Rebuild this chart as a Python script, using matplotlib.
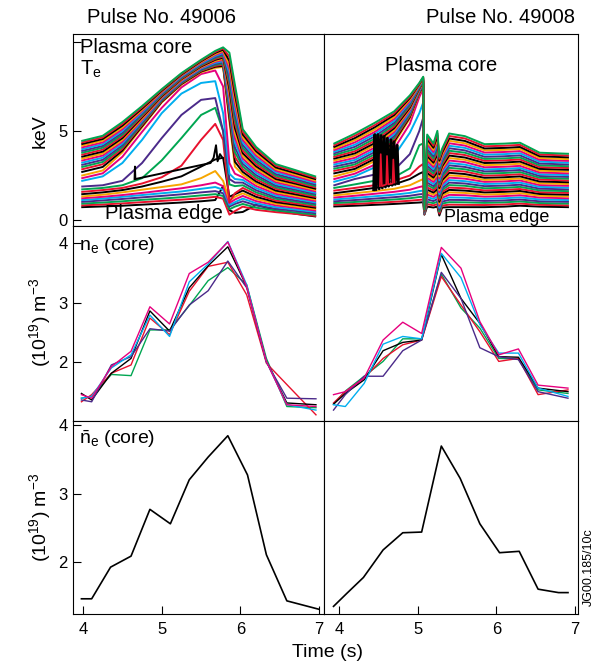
import matplotlib
matplotlib.use("Agg")
import matplotlib.pyplot as plt

plt.rcParams['font.family'] = ['Liberation Sans', 'DejaVu Sans']
plt.rcParams['mathtext.fontset'] = 'custom'
plt.rcParams['mathtext.rm'] = 'Liberation Sans'
plt.rcParams['mathtext.it'] = 'Liberation Sans'
plt.rcParams['mathtext.bf'] = 'Liberation Sans:bold'

# ---------------- Te channels, pulse 49006 (keV), edge (row 0) -> core (row 30)
time_te_49006 = [3.99, 4.25, 4.5, 4.75, 5.0, 5.25, 5.5, 5.68, 5.78, 5.86, 5.93, 6.03, 6.2, 6.45, 6.7, 6.95]
te_49006 = [
    [0.72, 0.76, 0.80, 0.86, 0.92, 0.98, 1.05, 1.12, 1.90, 0.55, 0.40, 0.45, 0.85, 0.55, 0.35, 0.20],
    [0.82, 0.87, 0.93, 1.00, 1.07, 1.14, 1.22, 1.30, 1.20, 0.30, 0.50, 0.75, 0.57, 0.44, 0.34, 0.23],
    [0.92, 0.98, 1.05, 1.13, 1.20, 1.28, 1.38, 1.45, 1.35, 0.60, 0.75, 0.90, 0.69, 0.54, 0.42, 0.30],
    [1.02, 1.10, 1.18, 1.27, 1.35, 1.44, 1.55, 1.62, 1.50, 0.75, 0.90, 1.05, 0.82, 0.63, 0.51, 0.38],
    [1.12, 1.20, 1.30, 1.40, 1.50, 1.60, 1.75, 1.85, 1.70, 0.85, 1.00, 1.20, 0.94, 0.72, 0.59, 0.46],
    [1.22, 1.30, 1.40, 1.52, 1.65, 1.78, 1.95, 2.10, 1.90, 0.95, 1.15, 1.35, 1.06, 0.82, 0.68, 0.53],
    [1.32, 1.42, 1.55, 1.70, 1.85, 2.00, 2.35, 2.75, 2.20, 1.10, 1.30, 1.50, 1.18, 0.91, 0.76, 0.61],
    [1.45, 1.55, 1.68, 1.88, 2.15, 2.45, 3.00, 3.40, 3.50, 1.30, 1.45, 1.65, 1.30, 1.00, 0.85, 0.69],
    [1.58, 1.68, 1.80, 2.05, 2.40, 3.05, 4.50, 5.40, 4.50, 1.00, 1.50, 1.80, 1.43, 1.09, 0.93, 0.76],
    [1.72, 1.80, 1.95, 2.35, 3.35, 4.60, 5.90, 6.30, 5.00, 2.00, 1.90, 1.95, 1.55, 1.19, 1.02, 0.84],
    [1.88, 1.95, 2.20, 3.20, 4.60, 5.90, 6.75, 6.85, 5.00, 2.30, 2.10, 2.10, 1.67, 1.28, 1.10, 0.92],
    [2.20, 2.45, 3.20, 4.50, 6.00, 7.10, 7.70, 7.80, 6.00, 2.60, 2.30, 2.25, 1.79, 1.37, 1.19, 0.99],
    [2.35, 2.62, 3.55, 4.95, 6.30, 7.45, 8.20, 8.40, 7.50, 3.20, 2.60, 2.40, 1.91, 1.47, 1.27, 1.07],
    [2.50, 2.78, 3.80, 5.20, 6.60, 7.60, 8.30, 8.55, 8.60, 5.50, 3.00, 2.55, 2.04, 1.56, 1.36, 1.15],
    [2.70, 2.98, 3.90, 5.27, 6.64, 7.64, 8.34, 8.61, 8.66, 5.73, 3.27, 2.70, 2.16, 1.65, 1.44, 1.23],
    [2.85, 3.13, 4.00, 5.34, 6.69, 7.68, 8.38, 8.66, 8.73, 5.96, 3.54, 2.85, 2.28, 1.75, 1.53, 1.30],
    [2.98, 3.26, 4.10, 5.41, 6.73, 7.71, 8.42, 8.72, 8.79, 6.19, 3.81, 3.00, 2.40, 1.84, 1.61, 1.38],
    [3.10, 3.38, 4.20, 5.48, 6.78, 7.75, 8.46, 8.77, 8.86, 6.42, 4.08, 3.15, 2.52, 1.93, 1.70, 1.46],
    [3.22, 3.50, 4.30, 5.55, 6.82, 7.79, 8.51, 8.83, 8.92, 6.65, 4.35, 3.30, 2.65, 2.02, 1.78, 1.53],
    [3.34, 3.62, 4.40, 5.62, 6.86, 7.83, 8.55, 8.89, 8.99, 6.88, 4.62, 3.45, 2.77, 2.12, 1.87, 1.61],
    [3.45, 3.73, 4.50, 5.69, 6.91, 7.87, 8.59, 8.94, 9.05, 7.11, 4.89, 3.60, 2.89, 2.21, 1.95, 1.69],
    [3.56, 3.84, 4.60, 5.77, 6.95, 7.91, 8.63, 9.00, 9.12, 7.34, 5.17, 3.75, 3.01, 2.30, 2.04, 1.76],
    [3.67, 3.95, 4.70, 5.83, 7.00, 7.94, 8.67, 9.05, 9.18, 7.56, 5.43, 3.90, 3.13, 2.40, 2.12, 1.84],
    [3.78, 4.06, 4.80, 5.91, 7.04, 7.98, 8.71, 9.11, 9.25, 7.79, 5.70, 4.05, 3.25, 2.49, 2.21, 1.91],
    [3.88, 4.16, 4.90, 5.98, 7.09, 8.02, 8.75, 9.16, 9.31, 8.02, 5.98, 4.20, 3.37, 2.58, 2.29, 1.99],
    [3.98, 4.26, 5.00, 6.05, 7.13, 8.06, 8.79, 9.22, 9.38, 8.25, 6.25, 4.35, 3.49, 2.68, 2.38, 2.07],
    [4.08, 4.36, 5.10, 6.12, 7.17, 8.10, 8.84, 9.28, 9.44, 8.48, 6.52, 4.50, 3.62, 2.77, 2.46, 2.14],
    [4.18, 4.46, 5.20, 6.19, 7.22, 8.14, 8.88, 9.33, 9.51, 8.71, 6.79, 4.65, 3.74, 2.86, 2.55, 2.22],
    [4.27, 4.55, 5.30, 6.26, 7.26, 8.17, 8.92, 9.39, 9.57, 8.94, 7.06, 4.80, 3.86, 2.95, 2.63, 2.30],
    [4.36, 4.64, 5.40, 6.33, 7.31, 8.21, 8.96, 9.44, 9.64, 9.17, 7.33, 4.95, 3.98, 3.05, 2.72, 2.37],
    [4.45, 4.73, 5.50, 6.40, 7.35, 8.25, 9.00, 9.50, 9.70, 9.40, 7.60, 5.10, 4.10, 3.14, 2.80, 2.45],
]
# spiky black channel just before the crash
spike_t_49006 = [4.655, 4.66, 4.665, 5.62, 5.66, 5.69, 5.71, 5.74, 5.77]
spike_v_49006 = [2.30, 3.00, 2.30, 3.20, 3.50, 4.20, 3.30, 3.70, 3.50]

# ---------------- Te channels, pulse 49008 (keV)
time_te_49008 = [3.94, 4.2, 4.45, 4.7, 4.9, 5.02, 5.07, 5.085, 5.12, 5.2, 5.25, 5.275, 5.31, 5.4,
                 5.6, 5.85, 6.1, 6.3, 6.55, 6.91]
te_49008 = [
    [0.76, 0.80, 0.85, 0.90, 0.95, 0.98, 1.00, 0.30, 0.75, 0.70, 0.75, 0.25, 0.70, 0.72, 0.72, 0.72, 0.75, 0.80, 0.75, 0.72],
    [0.86, 0.90, 0.96, 1.02, 1.08, 1.13, 1.15, 0.31, 0.89, 0.82, 0.89, 0.36, 0.81, 0.86, 0.85, 0.84, 0.87, 0.92, 0.85, 0.82],
    [0.95, 1.01, 1.08, 1.15, 1.22, 1.29, 1.30, 0.32, 1.02, 0.94, 1.03, 0.47, 0.92, 1.00, 0.99, 0.96, 0.99, 1.04, 0.95, 0.92],
    [1.05, 1.12, 1.20, 1.28, 1.36, 1.44, 1.46, 0.33, 1.16, 1.06, 1.18, 0.58, 1.03, 1.13, 1.12, 1.07, 1.10, 1.15, 1.05, 1.02],
    [1.15, 1.24, 1.33, 1.42, 1.52, 1.62, 1.65, 0.34, 1.29, 1.18, 1.32, 0.69, 1.14, 1.27, 1.25, 1.19, 1.22, 1.27, 1.15, 1.12],
    [1.26, 1.36, 1.47, 1.58, 1.70, 1.85, 1.90, 0.35, 1.43, 1.30, 1.46, 0.80, 1.25, 1.41, 1.39, 1.31, 1.34, 1.39, 1.26, 1.22],
    [1.38, 1.50, 1.62, 1.75, 1.95, 2.20, 2.30, 0.36, 1.56, 1.42, 1.60, 0.91, 1.36, 1.55, 1.52, 1.43, 1.46, 1.51, 1.36, 1.32],
    [1.50, 1.65, 1.80, 2.00, 2.30, 2.60, 2.70, 0.37, 1.70, 1.54, 1.74, 1.02, 1.47, 1.69, 1.65, 1.55, 1.58, 1.63, 1.46, 1.42],
    [1.65, 1.80, 1.95, 2.20, 2.50, 3.00, 3.15, 0.38, 1.83, 1.66, 1.89, 1.13, 1.58, 1.82, 1.78, 1.66, 1.69, 1.74, 1.56, 1.52],
    [1.80, 2.00, 2.20, 2.40, 2.90, 4.20, 4.30, 0.39, 1.97, 1.78, 2.03, 1.24, 1.69, 1.96, 1.92, 1.78, 1.81, 1.86, 1.66, 1.62],
    [1.95, 2.30, 2.55, 2.80, 3.70, 5.00, 5.75, 0.40, 2.10, 1.90, 2.17, 1.35, 1.80, 2.10, 2.05, 1.90, 1.93, 1.98, 1.76, 1.72],
    [2.15, 2.45, 2.95, 3.60, 4.90, 6.00, 6.60, 0.41, 2.24, 2.02, 2.31, 1.46, 1.91, 2.24, 2.18, 2.02, 2.05, 2.10, 1.86, 1.82],
    [2.30, 2.60, 3.10, 4.00, 5.40, 6.90, 7.40, 0.42, 2.37, 2.14, 2.45, 1.57, 2.02, 2.38, 2.32, 2.14, 2.17, 2.22, 1.96, 1.92],
    [2.45, 2.75, 3.30, 4.30, 5.70, 7.10, 7.50, 0.43, 2.51, 2.26, 2.60, 1.68, 2.13, 2.51, 2.45, 2.25, 2.28, 2.33, 2.06, 2.02],
    [2.62, 2.87, 3.43, 4.41, 5.78, 7.14, 7.53, 0.44, 2.64, 2.38, 2.74, 1.79, 2.24, 2.65, 2.58, 2.37, 2.40, 2.45, 2.16, 2.12],
    [2.76, 3.00, 3.55, 4.51, 5.85, 7.17, 7.56, 0.45, 2.78, 2.50, 2.88, 1.90, 2.35, 2.79, 2.72, 2.49, 2.52, 2.57, 2.27, 2.22],
    [2.88, 3.12, 3.68, 4.62, 5.93, 7.21, 7.60, 0.46, 2.91, 2.62, 3.02, 2.01, 2.46, 2.93, 2.85, 2.61, 2.64, 2.69, 2.37, 2.32],
    [3.00, 3.24, 3.81, 4.72, 6.01, 7.24, 7.63, 0.47, 3.05, 2.74, 3.16, 2.12, 2.57, 3.07, 2.98, 2.73, 2.76, 2.81, 2.47, 2.42],
    [3.12, 3.37, 3.93, 4.83, 6.08, 7.28, 7.66, 0.48, 3.18, 2.86, 3.31, 2.23, 2.68, 3.20, 3.11, 2.84, 2.87, 2.92, 2.57, 2.52],
    [3.23, 3.49, 4.06, 4.94, 6.16, 7.31, 7.69, 0.49, 3.32, 2.98, 3.45, 2.34, 2.79, 3.34, 3.25, 2.96, 2.99, 3.04, 2.67, 2.62],
    [3.34, 3.62, 4.19, 5.04, 6.24, 7.35, 7.73, 0.50, 3.45, 3.10, 3.59, 2.45, 2.90, 3.48, 3.38, 3.08, 3.11, 3.16, 2.77, 2.72],
    [3.45, 3.74, 4.31, 5.15, 6.31, 7.38, 7.76, 0.51, 3.59, 3.22, 3.73, 2.56, 3.01, 3.62, 3.51, 3.20, 3.23, 3.28, 2.87, 2.82],
    [3.55, 3.86, 4.44, 5.25, 6.39, 7.42, 7.79, 0.52, 3.72, 3.34, 3.87, 2.67, 3.12, 3.76, 3.65, 3.32, 3.35, 3.40, 2.97, 2.92],
    [3.65, 3.98, 4.56, 5.36, 6.46, 7.45, 7.82, 0.53, 3.86, 3.46, 4.02, 2.78, 3.23, 3.89, 3.78, 3.43, 3.46, 3.51, 3.07, 3.02],
    [3.75, 4.11, 4.69, 5.46, 6.54, 7.49, 7.86, 0.54, 3.99, 3.58, 4.16, 2.89, 3.34, 4.03, 3.91, 3.55, 3.58, 3.63, 3.17, 3.12],
    [3.84, 4.23, 4.82, 5.57, 6.62, 7.52, 7.89, 0.55, 4.13, 3.70, 4.30, 3.00, 3.45, 4.17, 4.05, 3.67, 3.70, 3.75, 3.28, 3.22],
    [3.93, 4.36, 4.94, 5.68, 6.69, 7.56, 7.92, 0.56, 4.26, 3.82, 4.44, 3.11, 3.56, 4.31, 4.18, 3.79, 3.82, 3.87, 3.38, 3.32],
    [4.02, 4.48, 5.07, 5.78, 6.77, 7.59, 7.95, 0.57, 4.40, 3.94, 4.58, 3.22, 3.67, 4.45, 4.31, 3.91, 3.94, 3.99, 3.48, 3.42],
    [4.11, 4.60, 5.20, 5.89, 6.85, 7.63, 7.99, 0.58, 4.53, 4.06, 4.73, 3.33, 3.78, 4.58, 4.44, 4.02, 4.05, 4.10, 3.58, 3.52],
    [4.20, 4.73, 5.32, 5.99, 6.92, 7.66, 8.02, 0.59, 4.67, 4.18, 4.87, 3.44, 3.89, 4.72, 4.58, 4.14, 4.17, 4.22, 3.68, 3.62],
    [4.30, 4.85, 5.45, 6.10, 7.00, 7.70, 8.05, 0.60, 4.80, 4.30, 5.01, 3.55, 4.00, 4.86, 4.71, 4.26, 4.29, 4.34, 3.78, 3.72],
]
black_spike_t_49008 = [4.44, 4.455, 4.47, 4.495, 4.51, 4.535, 4.55, 4.575, 4.59, 4.615, 4.63, 4.66,
                       4.675, 4.70, 4.715, 4.74, 4.755]
black_spike_v_49008 = [1.70, 4.80, 1.70, 4.80, 1.75, 4.75, 1.80, 4.70, 1.85, 4.60, 1.90, 4.50,
                       1.95, 4.40, 2.00, 4.20, 2.05]
red_spike_t_49008 = [4.52, 4.53, 4.545, 4.60, 4.61, 4.625, 4.68, 4.69, 4.705]
red_spike_v_49008 = [1.90, 3.70, 1.90, 2.00, 3.60, 2.00, 2.05, 3.40, 2.10]

# ---------------- ne (core) from several channels, 10^19 m^-3
time_ne_49006 = [3.98, 4.11, 4.36, 4.61, 4.85, 5.10, 5.35, 5.59, 5.84, 6.08, 6.33, 6.59, 6.96]
ne_49006_green = [1.39, 1.42, 1.79, 1.77, 2.54, 2.54, 2.95, 3.37, 3.59, 3.30, 2.06, 1.25, 1.23]
ne_49006_red = [1.33, 1.45, 1.81, 1.95, 2.74, 2.46, 3.19, 3.61, 3.68, 3.13, 1.98, 1.62, 1.11]
ne_49006_black = [1.47, 1.36, 1.81, 2.06, 2.86, 2.52, 3.25, 3.62, 3.94, 3.27, 2.01, 1.31, 1.28]
ne_49006_purple = [1.36, 1.33, 1.95, 2.09, 2.56, 2.52, 2.96, 3.20, 3.70, 3.25, 2.00, 1.39, 1.38]
ne_49006_cyan = [1.39, 1.42, 1.90, 2.12, 2.79, 2.43, 3.35, 3.65, 4.03, 3.30, 2.01, 1.28, 1.19]
ne_49006_magenta = [1.45, 1.39, 1.92, 2.18, 2.93, 2.64, 3.49, 3.68, 4.02, 3.27, 2.01, 1.28, 1.25]

time_ne_49008 = [3.93, 4.08, 4.32, 4.56, 4.81, 5.05, 5.30, 5.55, 5.79, 6.03, 6.28, 6.53, 6.91]
ne_49008_green = [1.29, 1.51, 1.76, 2.01, 2.39, 2.39, 3.48, 2.91, 2.57, 2.06, 2.05, 1.53, 1.47]
ne_49008_red = [1.31, 1.50, 1.73, 2.06, 2.29, 2.37, 3.44, 2.96, 2.51, 2.01, 2.06, 1.45, 1.53]
ne_49008_black = [1.29, 1.47, 1.70, 2.19, 2.33, 2.37, 3.81, 3.07, 2.65, 2.09, 2.08, 1.56, 1.50]
ne_49008_purple = [1.19, 1.45, 1.76, 1.76, 2.19, 2.37, 3.51, 3.07, 2.24, 2.09, 2.04, 1.50, 1.39]
ne_49008_cyan = [1.28, 1.25, 1.64, 2.30, 2.43, 2.39, 3.83, 3.42, 2.63, 2.15, 2.15, 1.56, 1.42]
ne_49008_magenta = [1.45, 1.50, 1.73, 2.37, 2.67, 2.48, 3.93, 3.58, 2.68, 2.12, 2.22, 1.61, 1.56]

# ---------------- line averaged ne (core)
time_nbar_49006 = [3.98, 4.11, 4.35, 4.61, 4.85, 5.11, 5.35, 5.59, 5.84, 6.09, 6.33, 6.59, 6.99]
nbar_49006 = [1.47, 1.47, 1.93, 2.09, 2.77, 2.56, 3.20, 3.53, 3.84, 3.27, 2.11, 1.44, 1.32]
time_nbar_49008 = [3.93, 4.10, 4.31, 4.56, 4.81, 5.05, 5.30, 5.54, 5.79, 6.04, 6.29, 6.53, 6.79, 6.91]
nbar_49008 = [1.36, 1.55, 1.78, 2.18, 2.43, 2.44, 3.69, 3.22, 2.56, 2.14, 2.16, 1.61, 1.56, 1.56]

GREEN = '#00a651'
ORANGE = '#f7a600'
RED = '#e8112d'
MAGENTA = '#e6007e'
BLACK = '#000000'
CYAN = '#00aeef'
PURPLE = '#4b2a8a'
# colour order of the channels going from edge to core
channel_colours = [BLACK, RED, GREEN, PURPLE, CYAN, MAGENTA, ORANGE]


def style_axes(ax, xlim, ylim, yticks=None, ylabels=None, bottom=False):
    ax.set_xlim(*xlim)
    ax.set_ylim(*ylim)
    if bottom:
        ax.set_xticks([4, 5, 6, 7])
        ax.set_xticklabels(['4', '5', '6', '7'])
    else:
        ax.set_xticks([])
    if yticks is None:
        ax.set_yticks([])
    else:
        ax.set_yticks(yticks)
        ax.set_yticklabels(ylabels)
    ax.tick_params(direction='in', length=6, width=0.8, labelsize=12, pad=4, colors='black')
    ax.tick_params(axis='x', pad=6)
    for s in ax.spines.values():
        s.set_linewidth(0.8)
        s.set_color('black')


def draw_channels(ax, t, rows):
    for i, row in enumerate(rows):
        ax.plot(t, row, color=channel_colours[i % 7], lw=1.4, solid_joinstyle='round')


def draw_ne(ax, t, series):
    for vals, col in series:
        ax.plot(t, vals, color=col, lw=1.0)


fig = plt.figure(figsize=(6.0, 6.63), dpi=100)

xl_left = (3.873, 7.062)
xl_right = (3.809, 7.037)
yl_te = (-0.34, 10.45)
yl_ne = (1.006, 4.29)
yl_nbar = (1.249, 4.054)

col_x = [(0.1217, 0.4183), (0.54, 0.4233)]
row_y = [(0.6591, 0.2896), (0.365, 0.2941), (0.0739, 0.2911)]

axes = [[fig.add_axes([cx, ry, cw, rh]) for (cx, cw) in col_x] for (ry, rh) in row_y]

# top row: electron temperature
draw_channels(axes[0][0], time_te_49006, te_49006)
axes[0][0].plot(spike_t_49006, spike_v_49006, color=BLACK, lw=1.4)
draw_channels(axes[0][1], time_te_49008, te_49008)
axes[0][1].plot(black_spike_t_49008, black_spike_v_49008, color=BLACK, lw=2.0)
axes[0][1].plot(red_spike_t_49008, red_spike_v_49008, color=RED, lw=1.2)

# middle row: core density channels
draw_ne(axes[1][0], time_ne_49006, [(ne_49006_green, GREEN), (ne_49006_red, RED), (ne_49006_black, BLACK),
                                    (ne_49006_purple, PURPLE), (ne_49006_cyan, CYAN),
                                    (ne_49006_magenta, MAGENTA)])
draw_ne(axes[1][1], time_ne_49008, [(ne_49008_green, GREEN), (ne_49008_red, RED), (ne_49008_black, BLACK),
                                    (ne_49008_purple, PURPLE), (ne_49008_cyan, CYAN),
                                    (ne_49008_magenta, MAGENTA)])

# bottom row: line averaged density
axes[2][0].plot(time_nbar_49006, nbar_49006, color=BLACK, lw=1.2)
axes[2][1].plot(time_nbar_49008, nbar_49008, color=BLACK, lw=1.2)

style_axes(axes[0][0], xl_left, yl_te, [0, 5, 10], ['0', '5', ''])
style_axes(axes[0][1], xl_right, yl_te)
style_axes(axes[1][0], xl_left, yl_ne, [2, 3, 4], ['2', '3', '4'])
style_axes(axes[1][1], xl_right, yl_ne)
style_axes(axes[2][0], xl_left, yl_nbar, [2, 3, 4], ['2', '3', '4'], bottom=True)
style_axes(axes[2][1], xl_right, yl_nbar, bottom=True)

# annotations
fig.text(0.145, 0.973, 'Pulse No. 49006', fontsize=14.5, ha='left', va='center')
fig.text(0.958, 0.973, 'Pulse No. 49008', fontsize=14.5, ha='right', va='center')
fig.text(0.133, 0.9196, 'Plasma core', fontsize=14.5, ha='left', va='baseline')
fig.text(0.133, 0.8869, 'T$_{e}$', fontsize=14.5, ha='left', va='baseline')
fig.text(0.175, 0.6697, 'Plasma edge', fontsize=14.5, ha='left', va='baseline')
fig.text(0.6417, 0.8929, 'Plasma core', fontsize=14.5, ha='left', va='baseline')
fig.text(0.7405, 0.6656, 'Plasma edge', fontsize=13, ha='left', va='baseline')
fig.text(0.132, 0.6229, 'n$_{e}$ (core)', fontsize=14, ha='left', va='baseline')
fig.text(0.132, 0.3303, r'$\bar{\mathrm{n}}_{e}$ (core)', fontsize=14, ha='left', va='baseline')

fig.text(0.0667, 0.8024, 'keV', fontsize=14, rotation=90, ha='center', va='center')
fig.text(0.0667, 0.5143, '(10$^{19}$) m$^{-3}$', fontsize=14, rotation=90, ha='center', va='center')
fig.text(0.0667, 0.2202, '(10$^{19}$) m$^{-3}$', fontsize=14, rotation=90, ha='center', va='center')
fig.text(0.545, 0.016, 'Time (s)', fontsize=14, ha='center', va='center')
fig.text(0.981, 0.145, 'JG00.185/10c', fontsize=9, rotation=90, ha='center', va='center')

fig.savefig('out.png', dpi=100)
